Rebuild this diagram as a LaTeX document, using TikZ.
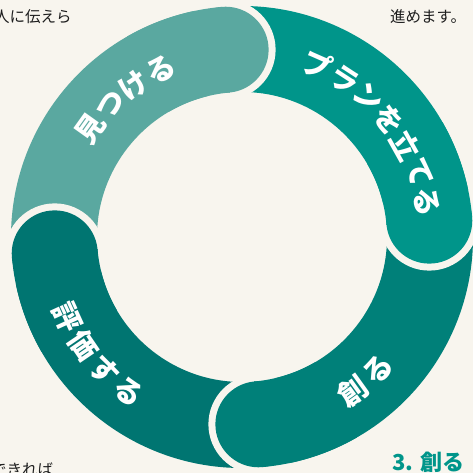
\documentclass[tikz,border=0pt]{standalone}
\usepackage{fontspec}
\newfontfamily\jp{Noto Sans CJK JP}
\definecolor{bg}{HTML}{F8F5EE}
\definecolor{cA}{HTML}{5AA8A0}
\definecolor{cB}{HTML}{00958A}
\definecolor{cC}{HTML}{008079}
\definecolor{cD}{HTML}{007571}
\definecolor{ink}{HTML}{1E1E1E}
\tikzset{
  band/.style={line width=86pt, line cap=butt},
  lbl/.style={text=white, font=\jp\bfseries\fontsize{29}{29}\selectfont, inner sep=0pt},
  corner/.style={text=ink, font=\jp\fontsize{15.5}{15.5}\selectfont, inner sep=0pt, anchor=base west},
  title/.style={text=cB, font=\jp\bfseries\fontsize{22}{22}\selectfont, inner sep=0pt, anchor=base west}
}
\begin{document}
\begin{tikzpicture}[x=1pt,y=1pt]
\useasboundingbox (0,0) rectangle (473,473);
\fill[bg] (0,0) rectangle (473,473);
\coordinate (C) at (242,236);
% bands
\foreach \s/\e/\c in {185/95/cA, 95/5/cB, 5/-85/cC, -85/-175/cD} {
  \draw[band, \c] ([shift={(\s:188)}]C) arc[start angle=\s, end angle=\e, radius=188];
}
% round caps overlapping the next band
\foreach \e/\c in {95/cA, 5/cB, -85/cC, -175/cD} {
  \fill[bg] ([shift={(\e:188)}]C) circle[radius=50];
  \fill[\c] ([shift={(\e:188)}]C) circle[radius=43];
  \pgfmathsetmacro\b{\e+25}
  \draw[band, \c] ([shift={(\b:188)}]C) arc[start angle=\b, end angle=\e, radius=188];
}
% labels
\foreach \a/\ch [count=\i] in {144.5/見, 135/つ, 125.5/け, 116/る}
  \node[lbl, rotate=\a-90] (m\i) at ([shift={(\a:186)}]C) {\ch};
\foreach \a/\ch [count=\i] in {66.2/プ, 56.95/ラ, 47.7/ン, 38.45/を, 29.2/立, 19.95/て, 10.7/る}
  \node[lbl, rotate=\a-90] (p\i) at ([shift={(\a:188)}]C) {\ch};
\foreach \a/\ch [count=\i] in {-54.3/創, -44.3/る}
  \node[lbl, rotate=\a+90] (t\i) at ([shift={(\a:190)}]C) {\ch};
\foreach \a/\ch [count=\i] in {204.6/評, 214.3/価, 224/す, 233.7/る}
  \node[lbl, rotate=\a+90] (h\i) at ([shift={(\a:192)}]C) {\ch};
% corner texts
\node[corner] (tl) at (-6,450.5) {人に伝えら};
\node[corner] (tr) at (390,450.5) {進めます。};
\node[corner] (bl) at (-9,-2) {できれば};
\node[title] (br) at (392,2) {3. 創る};
\end{tikzpicture}
\end{document}
